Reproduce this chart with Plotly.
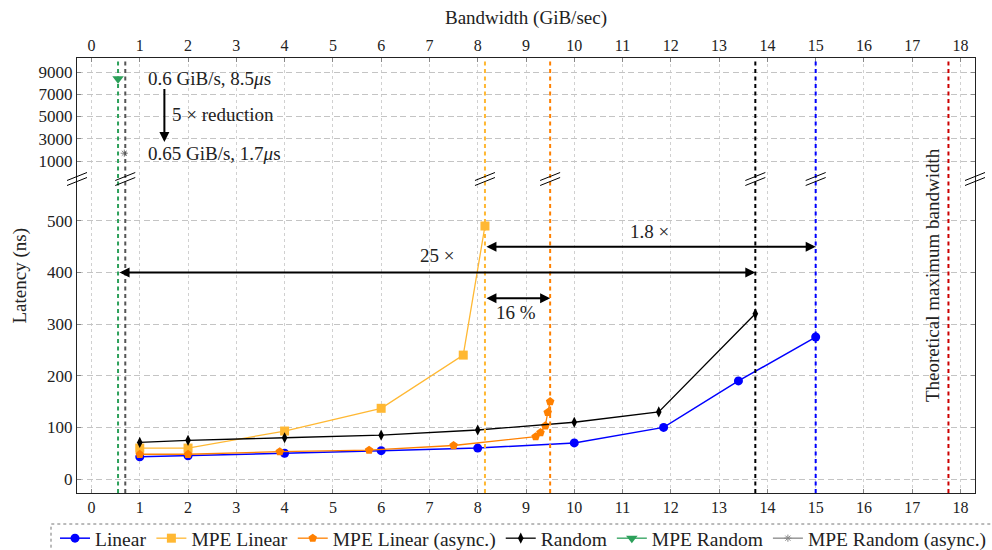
import plotly.graph_objects as go

# ---------------- data ----------------
bw_linear = [1, 2, 4, 6, 8, 10, 11.85, 13.4, 15]
lat_linear = [43, 45, 50, 55, 60, 70, 100, 190, 275]

bw_mpe_linear = [1, 2, 4, 6, 7.7, 8.15]
lat_mpe_linear = [60, 60, 93, 137, 240, 490]

bw_mpe_linear_async = [1, 2, 3.9, 5.75, 7.5, 9.2, 9.3, 9.4, 9.45, 9.5]
lat_mpe_linear_async = [48, 48, 53, 56, 65, 82, 90, 103, 129, 150]

bw_random = [1, 2, 4, 6, 8, 10, 11.75, 13.75]
lat_random = [71, 75, 80, 85, 95, 110, 130, 320]

bw_mpe_random = [0.55]
lat_mpe_random = [8400]

bw_mpe_random_async = [0.68]
lat_mpe_random_async = [1700]

# vertical reference lines (max bandwidth of each variant)
vline_x = [0.55, 0.7, 8.15, 9.5, 13.75, 15, 17.75]
vline_colors = ["#2ca05a", "#555555", "#ffb833", "#ff8000", "#000000", "#0000ff", "#cc0000"]
break_x = [0.7, 8.15, 9.5, 13.75, 15]

x_ticks = list(range(0, 19))
y_ticks_low = [0, 100, 200, 300, 400, 500]
y_ticks_high = [1000, 3000, 5000, 7000, 9000]

FONT = "Liberation Serif"
SPLIT = 314 / 435

fig = go.Figure()

fig.add_trace(go.Scatter(x=bw_linear, y=lat_linear, name="Linear", mode="lines+markers",
                         line=dict(color="#0000ff", width=1.5),
                         marker=dict(symbol="circle", size=9, color="#0000ff"),
                         xaxis="x", yaxis="y"))
fig.add_trace(go.Scatter(x=bw_mpe_linear, y=lat_mpe_linear, name="MPE Linear", mode="lines+markers",
                         line=dict(color="#ffb833", width=1.3),
                         marker=dict(symbol="square", size=9, color="#ffb833"),
                         xaxis="x", yaxis="y"))
fig.add_trace(go.Scatter(x=bw_mpe_linear_async, y=lat_mpe_linear_async, name="MPE Linear (async.)",
                         mode="lines+markers",
                         line=dict(color="#ff8000", width=1.3),
                         marker=dict(symbol="pentagon", size=9, color="#ff8000"),
                         xaxis="x", yaxis="y"))
fig.add_trace(go.Scatter(x=bw_random, y=lat_random, name="Random", mode="lines+markers",
                         line=dict(color="#000000", width=1.3),
                         marker=dict(symbol="diamond-tall", size=8, color="#000000"),
                         xaxis="x", yaxis="y"))
fig.add_trace(go.Scatter(x=bw_mpe_random, y=lat_mpe_random, name="MPE Random", mode="lines+markers",
                         line=dict(color="#2ca05a", width=1.3),
                         marker=dict(symbol="triangle-down", size=10, color="#2ca05a"),
                         xaxis="x2", yaxis="y2"))
fig.add_trace(go.Scatter(x=bw_mpe_random_async, y=lat_mpe_random_async, name="MPE Random (async.)",
                         mode="lines+markers",
                         line=dict(color="#888888", width=1.3),
                         marker=dict(symbol="asterisk", size=6, color="#888888",
                                     line=dict(color="#888888", width=1)),
                         xaxis="x2", yaxis="y2"))

# vertical dashed lines across both panels
shapes = []
for xv, col in zip(vline_x, vline_colors):
    shapes.append(dict(type="line", xref="x", yref="paper", x0=xv, x1=xv, y0=0, y1=1,
                       line=dict(color=col, width=2, dash="4px,3.5px"), layer="above"))

# axis-break markers
def brk(xref, xanchor):
    out = []
    for off in (-2.5, 2.5):
        out.append(dict(type="line", xref=xref, yref="paper", xsizemode="pixel", ysizemode="pixel",
                        xanchor=xanchor, yanchor=SPLIT, x0=-10, x1=10, y0=-4 + off, y1=4 + off,
                        line=dict(color="#000000", width=1)))
    return out

shapes += brk("paper", 0)
shapes += brk("paper", 1)
for xb in break_x:
    shapes += brk("x", xb)

# dotted legend frame
shapes.append(dict(type="rect", xref="paper", yref="paper",
                   x0=(51 - 77) / 898, x1=1.05, y0=-0.3, y1=(493 - 524) / 435,
                   line=dict(color="#777777", width=1, dash="dot"), fillcolor="rgba(0,0,0,0)"))

annotations = []
tfont = dict(family=FONT, size=19, color="#222222")

# top panel annotations
annotations.append(dict(x=1.12, y=8450, xref="x2", yref="y2", text="0.6 GiB/s, 8.5<i>μ</i>s",
                        showarrow=False, xanchor="left", yanchor="middle", font=tfont))
annotations.append(dict(x=1.12, y=1650, xref="x2", yref="y2", text="0.65 GiB/s, 1.7<i>μ</i>s",
                        showarrow=False, xanchor="left", yanchor="middle", font=tfont))
annotations.append(dict(x=1.62, y=5150, xref="x2", yref="y2", text="5 × reduction",
                        showarrow=False, xanchor="left", yanchor="middle", font=tfont))
annotations.append(dict(x=1.51, y=2700, ax=1.51, ay=7600, xref="x2", yref="y2", axref="x2", ayref="y2",
                        text="", showarrow=True, arrowhead=2, arrowsize=1, arrowwidth=2,
                        arrowcolor="#000000", standoff=0, startstandoff=0))

# bottom panel arrows
def dbl_arrow(x0, x1, y):
    return dict(x=x1, y=y, ax=x0, ay=y, xref="x", yref="y", axref="x", ayref="y", text="",
                showarrow=True, arrowhead=2, startarrowhead=2, arrowside="end+start",
                arrowsize=1, startarrowsize=1, arrowwidth=2, arrowcolor="#000000",
                standoff=0, startstandoff=0)

annotations.append(dbl_arrow(0.55, 13.75, 400))
annotations.append(dbl_arrow(8.15, 15, 450))
annotations.append(dbl_arrow(8.15, 9.5, 350))
annotations.append(dict(x=7.15, y=432, xref="x", yref="y", text="25 ×", showarrow=False, font=tfont))
annotations.append(dict(x=11.56, y=479, xref="x", yref="y", text="1.8 ×", showarrow=False, font=tfont))
annotations.append(dict(x=8.8, y=322, xref="x", yref="y", text="16 %", showarrow=False, font=tfont))
annotations.append(dict(x=17.42, y=0.5, xref="x", yref="paper", text="Theoretical maximum bandwidth",
                        textangle=-90, showarrow=False, xanchor="center", yanchor="middle", font=tfont))
annotations.append(dict(x=(19 - 77) / 898, y=0.5, xref="paper", yref="paper", text="Latency (ns)",
                        textangle=-90, showarrow=False, xanchor="center", yanchor="middle", font=tfont))

axis_common = dict(showline=True, linecolor="#222222", linewidth=1.2, zeroline=False,
                   ticks="inside", ticklen=4, tickcolor="#888888",
                   tickfont=dict(family=FONT, size=16, color="#222222"))

fig.update_layout(
    width=992, height=550,
    margin=dict(l=77, r=17, t=58, b=57, autoexpand=False),
    paper_bgcolor="white", plot_bgcolor="white",
    font=dict(family=FONT, color="#222222"),
    xaxis=dict(**axis_common, anchor="y", domain=[0, 1], range=[-0.3, 18.3],
               tickvals=x_ticks, side="bottom",
               showgrid=True, gridcolor="#d0d0d0", griddash="dot", gridwidth=1),
    xaxis2=dict(**axis_common, anchor="y2", matches="x", range=[-0.3, 18.3],
                tickvals=x_ticks, side="top",
                showgrid=True, gridcolor="#d0d0d0", griddash="dot", gridwidth=1,
                title=dict(text="Bandwidth (GiB/sec)", font=dict(family=FONT, size=19), standoff=6)),
    yaxis=dict(**axis_common, domain=[0, SPLIT], range=[-27, 581], tickvals=y_ticks_low,
               mirror="ticks", showgrid=True, gridcolor="#c4c4c4", griddash="6px,3.5px", gridwidth=1),
    yaxis2=dict(**axis_common, domain=[SPLIT, 1], range=[-618, 10258], tickvals=y_ticks_high,
                mirror="ticks", showgrid=True, gridcolor="#c4c4c4", griddash="6px,3.5px", gridwidth=1),
    shapes=shapes,
    annotations=annotations,
    showlegend=True,
    legend=dict(orientation="h", x=(55 - 77) / 898, xanchor="left", y=(493 - 519) / 435, yanchor="top",
                font=dict(family=FONT, size=19.5, color="#222222"), bgcolor="rgba(0,0,0,0)",
                itemwidth=30, tracegroupgap=0),
)
fig.update_yaxes(tickfont=dict(family=FONT, size=17, color="#222222"))

fig.write_html("out.html")
